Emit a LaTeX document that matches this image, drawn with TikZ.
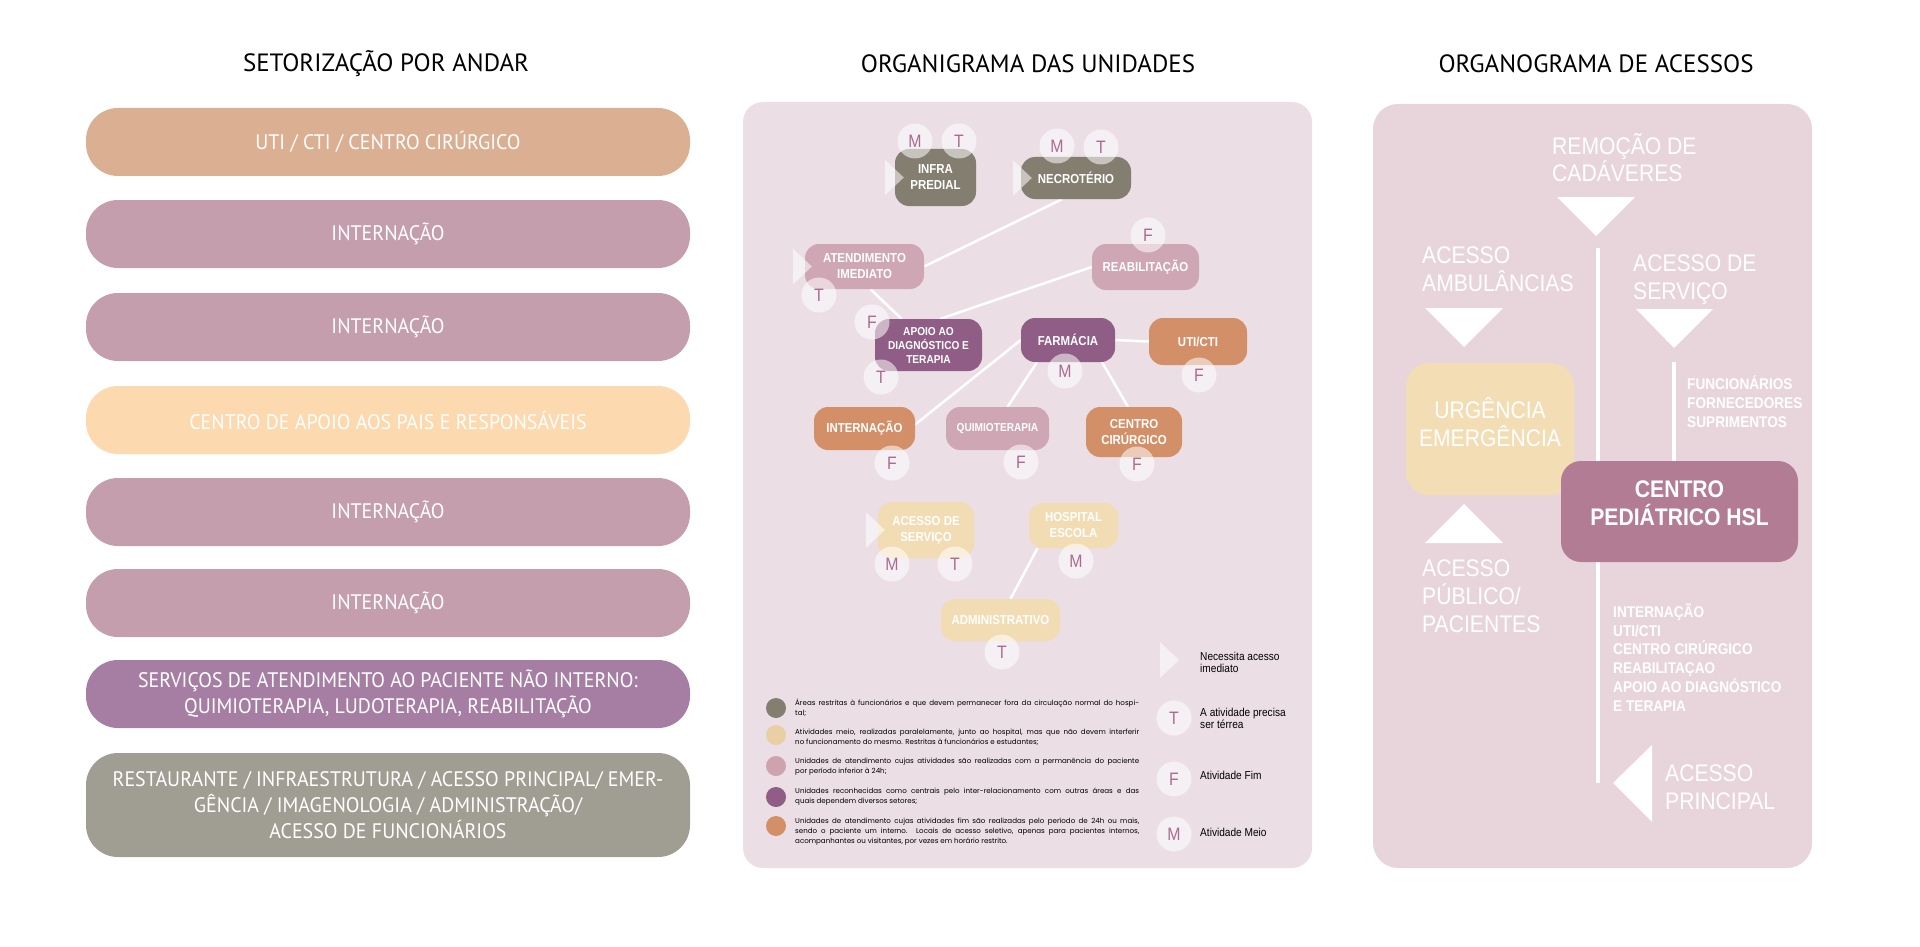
\documentclass[tikz,border=0pt]{standalone}
\usepackage{fontspec}
\setmainfont{Liberation Sans}
\newfontfamily\rbfont[FakeStretch=0.88]{Liberation Sans}
\newfontfamily\barfont[FakeStretch=0.95]{PT Sans}
\newfontfamily\headfont{PT Sans}
\newfontfamily\legfont{Poppins}
\usetikzlibrary{positioning}
\pgfdeclarelayer{back}
\pgfsetlayers{back,main}

\definecolor{tanfl}{HTML}{DBAF92}
\definecolor{mauvefl}{HTML}{C59EAD}
\definecolor{peachfl}{HTML}{FCD9AF}
\definecolor{violetfl}{HTML}{A77EA3}
\definecolor{greyfl}{HTML}{A09D92}
\definecolor{midpanel}{HTML}{EBDEE5}
\definecolor{rightpanel}{HTML}{E8D5DC}
\definecolor{olive}{HTML}{837E6F}
\definecolor{rose}{HTML}{CFA7B4}
\definecolor{plum}{HTML}{8F5D85}
\definecolor{rust}{HTML}{D38F67}
\definecolor{sand}{HTML}{F2DCB3}
\definecolor{sanddot}{HTML}{EACFA4}
\definecolor{rosedot}{HTML}{CFA3AD}
\definecolor{ink}{HTML}{A96C90}
\definecolor{centro}{HTML}{B27C94}
\definecolor{urg}{HTML}{F3DDB4}

\tikzset{
  head/.style={font=\headfont\fontsize{25}{30}\selectfont, inner sep=0pt},
  floor/.style={rounded corners=32pt, minimum width=604pt, minimum height=68pt, inner sep=0pt,
    text=white, align=center, font=\barfont\fontsize{21}{26}\selectfont},
  unit/.style={rounded corners=14pt, inner sep=0pt, text=white, align=center,
    font=\rbfont\bfseries\fontsize{13}{16}\selectfont},
  badge/.style={circle, fill=white, fill opacity=.55, text opacity=1, text=ink,
    minimum size=35pt, inner sep=0pt, font=\rbfont\fontsize{18}{18}\selectfont},
  flag/.style={fill=white, fill opacity=.55},
  link/.style={white, line width=2.5pt},
  dot/.style={circle, minimum size=20pt, inner sep=0pt},
  legtext/.style={anchor=west, text width=344pt, align=justify, inner sep=0pt,
    font=\legfont\fontsize{7.1}{10}\selectfont},
  keytext/.style={anchor=west, align=left, inner sep=0pt, font=\rbfont\fontsize{11.5}{12}\selectfont},
  big/.style={anchor=base west, align=left, inner sep=0pt, text=white,
    font=\rbfont\fontsize{24}{28}\selectfont},
  small/.style={anchor=base west, align=left, inner sep=0pt, text=white,
    font=\rbfont\bfseries\fontsize{15.5}{18.7}\selectfont}
}
\newcommand{\flagat}[1]{\fill[flag] (#1) ++(0,-18) -- ++(19,18) -- ++(-19,18) -- cycle;}

\begin{document}
\begin{tikzpicture}[x=1pt, y=-1pt]
\useasboundingbox (0,0) rectangle (1920,947);

% titles
\node[head] (t1) at (386,64) {SETORIZAÇÃO POR ANDAR};
\node[head] (t2) at (1028,64) {ORGANIGRAMA DAS UNIDADES};
\node[head] (t3) at (1596,64) {ORGANOGRAMA DE ACESSOS};

% floors
\node[floor, fill=tanfl] (f1) at (388,142) {UTI / CTI / CENTRO CIRÚRGICO};
\node[floor, fill=mauvefl] (f2) at (388,234) {INTERNAÇÃO};
\node[floor, fill=mauvefl] (f3) at (388,327) {INTERNAÇÃO};
\node[floor, fill=peachfl] (f4) at (388,420) {CENTRO DE APOIO AOS PAIS E RESPONSÁVEIS};
\node[floor, fill=mauvefl] (f5) at (388,512) {INTERNAÇÃO};
\node[floor, fill=mauvefl] (f6) at (388,603) {INTERNAÇÃO};
\node[floor, fill=violetfl] (f7) at (388,694) {SERVIÇOS DE ATENDIMENTO AO PACIENTE NÃO INTERNO:\\QUIMIOTERAPIA, LUDOTERAPIA, REABILITAÇÃO};
\node[floor, fill=greyfl, minimum height=104pt] (f8) at (388,805) {RESTAURANTE / INFRAESTRUTURA / ACESSO PRINCIPAL/ EMER-\\GÊNCIA / IMAGENOLOGIA / ADMINISTRAÇÃO/\\ACESSO DE FUNCIONÁRIOS};

% panels
\begin{pgfonlayer}{back}
\fill[midpanel, rounded corners=20pt] (743,102) rectangle (1312,868);
\fill[rightpanel, rounded corners=25pt] (1373,104) rectangle (1812,868);
\end{pgfonlayer}

% units
\node[unit, fill=olive, minimum width=81pt, minimum height=57pt] (infra) at (935.5,177.5) {INFRA\\PREDIAL};
\node[unit, fill=olive, minimum width=110pt, minimum height=42pt] (necro) at (1076,178) {NECROTÉRIO};
\node[unit, fill=rose, minimum width=119pt, minimum height=45pt] (atend) at (864.5,266.5) {ATENDIMENTO\\IMEDIATO};
\node[unit, fill=rose, minimum width=107pt, minimum height=46pt] (reab) at (1145.5,267) {REABILITAÇÃO};
\node[unit, fill=plum, minimum width=107pt, minimum height=52pt, font=\rbfont\bfseries\fontsize{11.5}{14}\selectfont] (apoio) at (928.5,345) {APOIO AO\\DIAGNÓSTICO E\\TERAPIA};
\node[unit, fill=plum, minimum width=94pt, minimum height=44pt] (farm) at (1068,340) {FARMÁCIA};
\node[unit, fill=rust, minimum width=98pt, minimum height=47pt] (uti) at (1198,341.5) {UTI/CTI};
\node[unit, fill=rust, minimum width=101pt, minimum height=43pt] (intern) at (864.5,428.5) {INTERNAÇÃO};
\node[unit, fill=rose, minimum width=103pt, minimum height=43pt, font=\rbfont\bfseries\fontsize{11.5}{14}\selectfont] (quimio) at (997.5,428.5) {QUIMIOTERAPIA};
\node[unit, fill=rust, minimum width=96pt, minimum height=50pt] (cc) at (1134,432) {CENTRO\\CIRÚRGICO};
\node[unit, fill=sand, minimum width=96pt, minimum height=56pt] (acesso) at (926,530) {ACESSO DE\\SERVIÇO};
\node[unit, fill=sand, minimum width=89pt, minimum height=45pt] (hosp) at (1073.5,525.5) {HOSPITAL\\ESCOLA};
\node[unit, fill=sand, minimum width=119pt, minimum height=42pt] (admin) at (1000.5,620) {ADMINISTRATIVO};

\begin{pgfonlayer}{back}
\draw[link] ([xshift=-14pt]necro.south) -- (atend.east);
\draw[link] ([xshift=6pt]atend.south) -- ([xshift=-27pt]apoio.north);
\draw[link] (reab.west) -- ([xshift=12pt]apoio.north);
\draw[link] (farm.east) -- (uti.west);
\draw[link] (farm.west) -- ([yshift=4pt]intern.east);
\draw[link] ([xshift=-31pt]farm.south) -- ([xshift=10pt]quimio.north);
\draw[link] ([xshift=34pt]farm.south) -- ([xshift=-6pt]cc.north);
\draw[link] ([xshift=-36pt]hosp.south) -- ([xshift=10pt]admin.north);
\end{pgfonlayer}

% access flags and badges
\flagat{[xshift=-10pt]infra.west}
\flagat{[xshift=-8pt]necro.west}
\flagat{[xshift=-12pt]atend.west}
\flagat{[xshift=-12pt]acesso.west}
\node[badge] (b1) at (915,141) {M};
\node[badge] (b2) at (959,141) {T};
\node[badge] (b3) at (1057,146) {M};
\node[badge] (b4) at (1101,147) {T};
\node[badge] (b5) at (819,295) {T};
\node[badge] (b6) at (1148,235) {F};
\node[badge] (b7) at (872,322) {F};
\node[badge] (b8) at (881,377) {T};
\node[badge] (b9) at (1065,371) {M};
\node[badge] (b10) at (1199,375) {F};
\node[badge] (b11) at (892,463) {F};
\node[badge] (b12) at (1021,462) {F};
\node[badge] (b13) at (1137,464) {F};
\node[badge] (b14) at (892,564) {M};
\node[badge] (b15) at (955,564) {T};
\node[badge] (b16) at (1076,561) {M};
\node[badge] (b17) at (1002,652) {T};

% legend
\node[dot, fill=olive] (d1) at (776,708) {};
\node[dot, fill=sanddot] (d2) at (776,735) {};
\node[dot, fill=rosedot] (d3) at (776,766) {};
\node[dot, fill=plum] (d4) at (776,797) {};
\node[dot, fill=rust] (d5) at (776,826) {};
\node[legtext] (l1) at (795,708) {Áreas restritas à funcionários e que devem permanecer fora da circulação normal do hospi-\linebreak tal;};
\node[legtext] (l2) at (795,737) {Atividades meio, realizadas paralelamente, junto ao hospital, mas que não devem interferir\linebreak no funcionamento do mesmo. Restritas à funcionários e estudantes;};
\node[legtext] (l3) at (795,767) {Unidades de atendimento cujas atividades são realizadas com a permanência do paciente\linebreak por período inferior à 24h;};
\node[legtext] (l4) at (795,797) {Unidades reconhecidas como centrais pelo inter-relacionamento com outras áreas e das\linebreak quais dependem diversos setores;};
\node[legtext] (l5) at (795,832) {Unidades de atendimento cujas atividades fim são realizadas pelo período de 24h ou mais,\linebreak sendo o paciente um interno. Locais de acesso seletivo, apenas para pacientes internos,\linebreak acompanhantes ou visitantes, por vezes em horário restrito.};

\flagat{1160,660}
\node[badge] (k2) at (1174,718) {T};
\node[badge] (k3) at (1174,779) {F};
\node[badge] (k4) at (1174,834) {M};
\node[keytext] (n1) at (1200,662) {Necessita acesso\\imediato};
\node[keytext] (n2) at (1200,718) {A atividade precisa\\ser térrea};
\node[keytext] (n3) at (1200,775) {Atividade Fim};
\node[keytext] (n4) at (1200,832) {Atividade Meio};

% access chart
\node[rounded corners=23pt, fill=urg, minimum width=168pt, minimum height=132pt] (urgbox) at (1490,429) {};
\node[rounded corners=20pt, fill=centro, minimum width=237pt, minimum height=101pt] (hsl) at (1679.5,511.5) {};
\begin{pgfonlayer}{back}
\draw[white, line width=4.5pt] (1598,248) -- (1598,783);
\draw[white, line width=4.5pt] (1674,362) -- (hsl.north -| 1674,0);
\end{pgfonlayer}
\node[align=center, text=white, inner sep=0pt, font=\rbfont\fontsize{24}{28}\selectfont] (urgtxt) at ([yshift=7pt]urgbox.center) {URGÊNCIA\\EMERGÊNCIA};
\node[align=center, text=white, inner sep=0pt, font=\rbfont\bfseries\fontsize{24}{28}\selectfont] (hsltxt) at ([yshift=8pt]hsl.center) {CENTRO\\PEDIÁTRICO HSL};

\fill[white] (1557,197) -- (1635,197) -- (1596,236) -- cycle;
\fill[white] (1425,308) -- (1503,308) -- (1464,347) -- cycle;
\fill[white] (1636,309) -- (1713,309) -- (1674,348) -- cycle;
\fill[white] (1425,543) -- (1503,543) -- (1464,504) -- cycle;
\fill[white] (1652,745) -- (1652,822) -- (1613,783) -- cycle;

\node[big] (r1) at (1552,182) {REMOÇÃO DE\\CADÁVERES};
\node[big] (r2) at (1422,291) {ACESSO\\AMBULÂNCIAS};
\node[big] (r3) at (1633,299) {ACESSO DE\\SERVIÇO};
\node[small] (r4) at (1687,427) {FUNCIONÁRIOS\\FORNECEDORES\\SUPRIMENTOS};
\node[big] (r5) at (1422,632) {ACESSO\\PÚBLICO/\\PACIENTES};
\node[small] (r6) at (1613,711) {INTERNAÇÃO\\UTI/CTI\\CENTRO CIRÚRGICO\\REABILITAÇAO\\APOIO AO DIAGNÓSTICO\\E TERAPIA};
\node[big] (r7) at (1665,809) {ACESSO\\PRINCIPAL};
\end{tikzpicture}
\end{document}
